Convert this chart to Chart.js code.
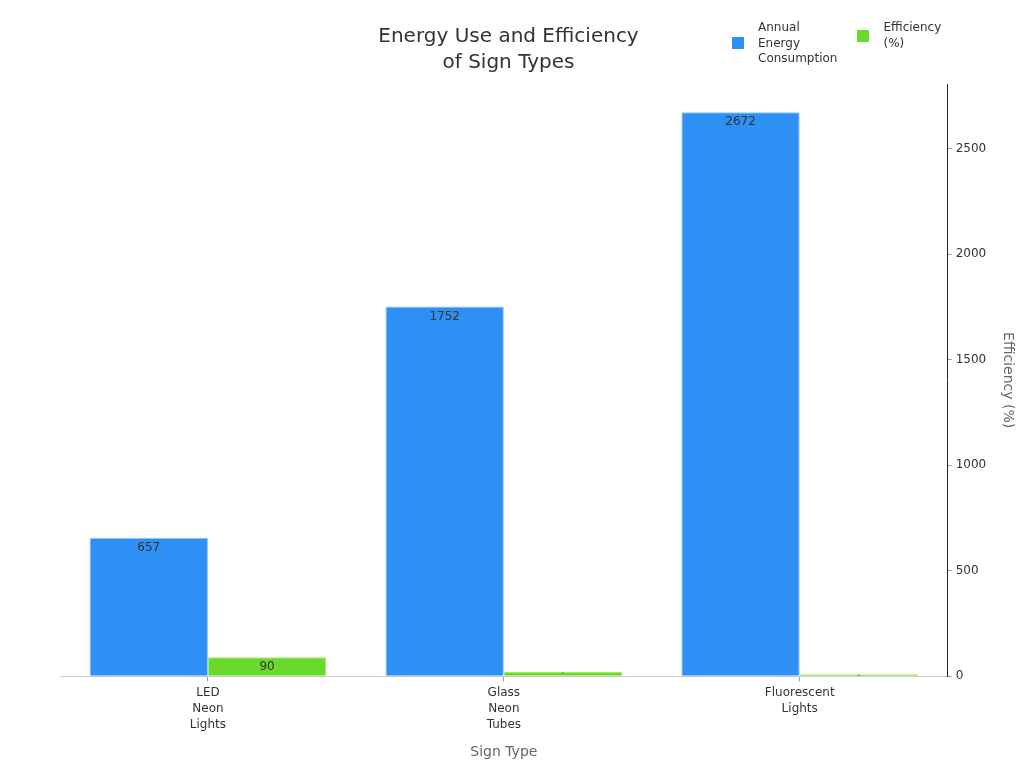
<!DOCTYPE html>
<html>
<head>
<meta charset="utf-8">
<script src="https://cdn.jsdelivr.net/npm/chart.js@4/dist/chart.umd.min.js"></script>
<style>
  html, body { margin: 0; padding: 0; background: #fff; }
  #wrap { position: relative; width: 1024px; height: 768px; font-family: "DejaVu Sans", sans-serif; }
  #legend { position: absolute; top: 20px; left: 732px; display: flex; align-items: flex-start; font-size: 12px; color: #333; line-height: 15.5px; }
  .item { display: flex; align-items: center; margin-right: 20px; }
  .box { width: 12px; height: 12px; margin-right: 14px; flex: none; }
</style>
</head>
<body>
<div id="wrap">
  <canvas id="chart" width="1024" height="768"></canvas>
  <div id="legend"></div>
</div>
<script>
// Data
const categories = ['LED Neon Lights', 'Glass Neon Tubes', 'Fluorescent Lights'];
const energyUse = [657, 1752, 2672];
const efficiency = [90, 20, 10];
const yTicks = [0, 500, 1000, 1500, 2000, 2500];

const seriesNames = [['Annual', 'Energy', 'Consumption'], ['Efficiency', '(%)']];
const seriesColors = ['#2e90f5', '#69da2a'];
const borderColors = ['#8ec4fa', '#a5e97c'];

// value labels inside the top of each bar
const barLabels = {
  id: 'barLabels',
  afterDatasetsDraw(chart) {
    const ctx = chart.ctx;
    ctx.save();
    ctx.fillStyle = '#333';
    ctx.textAlign = 'center';
    ctx.textBaseline = 'middle';
    chart.data.datasets.forEach((ds, i) => {
      chart.getDatasetMeta(i).data.forEach((bar, j) => {
        const h = bar.base - bar.y;
        const size = Math.max(2, Math.min(12, h - 6));
        ctx.font = size + 'px "DejaVu Sans"';
        ctx.fillText(String(ds.data[j]), bar.x, bar.y + Math.min(10, h / 2));
      });
    });
    ctx.restore();
  }
};

new Chart(document.getElementById('chart'), {
  type: 'bar',
  data: {
    labels: categories,
    datasets: [
      { label: 'Annual Energy Consumption', data: energyUse, yAxisID: 'y', backgroundColor: seriesColors[0], borderColor: borderColors[0], borderWidth: 1 },
      { label: 'Efficiency (%)', data: efficiency, yAxisID: 'y', backgroundColor: seriesColors[1], borderColor: borderColors[1], borderWidth: 1 }
    ]
  },
  options: {
    responsive: false,
    animation: false,
    devicePixelRatio: 1,
    categoryPercentage: 0.8,
    barPercentage: 1,
    layout: { padding: { left: 0, right: 7, bottom: 3 } },
    plugins: {
      legend: { display: false },
      tooltip: { enabled: false },
      title: {
        display: true,
        text: ['Energy Use and Efficiency', 'of Sign Types'],
        color: '#333',
        font: { family: 'DejaVu Sans', size: 20, weight: 'normal', lineHeight: 1.3 },
        padding: { top: 24, bottom: 8 }
      }
    },
    scales: {
      x: {
        grid: { drawOnChartArea: false, offset: false, tickLength: 5, color: '#999' },
        border: { color: '#ccc' },
        ticks: {
          color: '#333',
          padding: 4,
          font: { family: 'DejaVu Sans', size: 12, lineHeight: 1.33 },
          callback: (v, i) => categories[i].split(' ')
        },
        title: { display: true, text: 'Sign Type', color: '#666', font: { family: 'DejaVu Sans', size: 14 }, padding: { top: 7 } }
      },
      // empty left axis, only keeps the 60px margin so the title stays centred on the page
      left: {
        position: 'left',
        min: 0,
        max: 1,
        grid: { display: false },
        border: { display: false },
        ticks: { display: false },
        afterFit: axis => { axis.width = 60; }
      },
      y: {
        position: 'right',
        min: 0,
        max: 2806,
        afterBuildTicks: axis => { axis.ticks = yTicks.map(v => ({ value: v })); },
        grid: { drawOnChartArea: false, tickLength: 4, color: '#999' },
        border: { color: '#222' },
        ticks: { color: '#333', padding: 4, font: { family: 'DejaVu Sans', size: 12 }, callback: v => String(v) },
        title: { display: true, text: 'Efficiency (%)', color: '#666', font: { family: 'DejaVu Sans', size: 14 }, padding: { top: 0.5, bottom: 9.5 } }
      }
    }
  },
  plugins: [barLabels]
});

// legend with wrapped names
const legend = document.getElementById('legend');
seriesNames.forEach((lines, i) => {
  const item = document.createElement('div');
  item.className = 'item';
  const box = document.createElement('span');
  box.className = 'box';
  box.style.background = seriesColors[i];
  const txt = document.createElement('span');
  txt.innerHTML = lines.join('<br>');
  item.appendChild(box);
  item.appendChild(txt);
  legend.appendChild(item);
});
</script>
</body>
</html>
